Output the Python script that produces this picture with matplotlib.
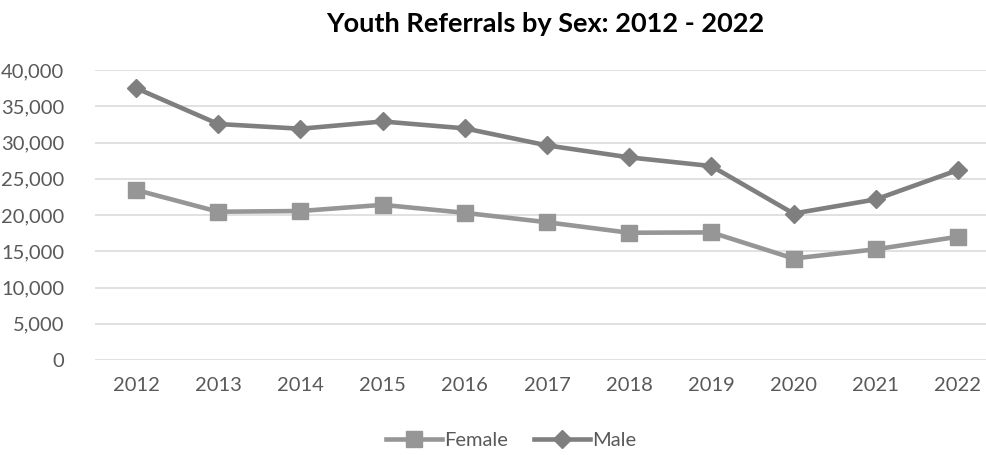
import matplotlib
matplotlib.use("Agg")
import matplotlib.pyplot as plt
from matplotlib.ticker import FuncFormatter, MultipleLocator

years = ["2012", "2013", "2014", "2015", "2016", "2017", "2018", "2019", "2020", "2021", "2022"]
female = [23450, 20450, 20550, 21400, 20300, 19000, 17550, 17600, 14000, 15270, 17000]
male = [37500, 32550, 31900, 32900, 31950, 29600, 27950, 26750, 20200, 22150, 26200]

plt.rcParams['font.family'] = ['Lato', 'DejaVu Sans']

fig = plt.figure(figsize=(9.87, 4.55), dpi=100)
ax = fig.add_axes([95/987, 95/455, 904/987, 290/455])

x = list(range(len(years)))
ax.plot(x, female, color="#969696", lw=3.3, marker="s", ms=12, label="Female", solid_joinstyle="round")
ax.plot(x, male, color="#7f7f7f", lw=3.3, marker="D", ms=9, label="Male", solid_joinstyle="round")

ax.set_xlim(-0.5, len(years) - 0.5)
ax.set_ylim(0, 40000)
ax.yaxis.set_major_locator(MultipleLocator(5000))
ax.yaxis.set_major_formatter(FuncFormatter(lambda v, p: f"{int(v):,}"))
ax.set_xticks(x)
ax.set_xticklabels(years)
ax.grid(axis="y", color="#d9d9d9", lw=1.1)
ax.set_axisbelow(True)
for s in ax.spines.values():
    s.set_visible(False)
ax.tick_params(axis="both", length=0, labelsize=14.5, labelcolor="#595959")
ax.tick_params(axis="y", pad=22)
ax.tick_params(axis="x", pad=12)

fig.text(545/987, 1 - 24/455, "Youth Referrals by Sex: 2012 - 2022", ha="center", va="center",
         fontsize=19.5, fontweight="bold", color="#000000")

leg = fig.legend(loc="center", bbox_to_anchor=(511/987, 1 - 440/455), ncol=2, frameon=False,
                 fontsize=14.5, handlelength=2.8, columnspacing=1.3, handletextpad=0.1)
for t in leg.get_texts():
    t.set_color("#595959")

fig.savefig("out.png", dpi=100)
